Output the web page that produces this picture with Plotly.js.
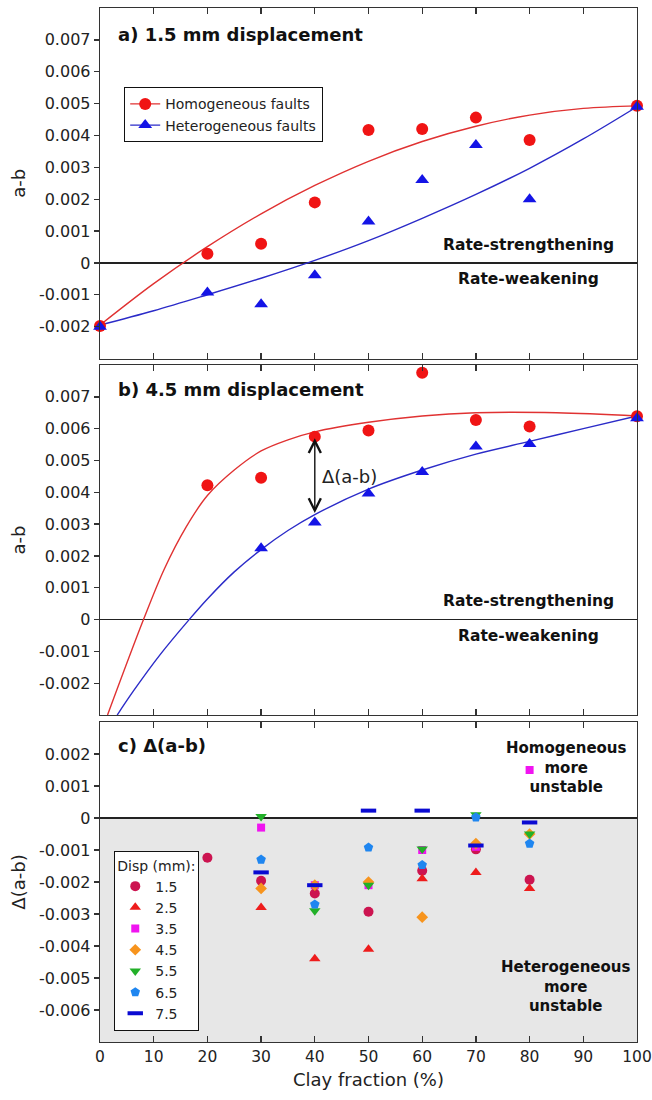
<!DOCTYPE html>
<html>
<head>
<meta charset="utf-8">
<script src="https://cdn.plot.ly/plotly-3.0.1.min.js"></script>
<style>html,body{margin:0;padding:0;background:#fff;}#chart{width:652px;height:1100px;}</style>
</head>
<body>
<div id="chart"></div>
<script>
// ---------- data ----------
const clayA = [0, 20, 30, 40, 50, 60, 70, 80, 100];
const homA = [-0.00198, 0.00029, 0.0006, 0.0019, 0.00417, 0.0042, 0.00456, 0.00386, 0.00493];
const hetA = [-0.002, -0.00093, -0.0013, -0.00039, 0.0013, 0.0026, 0.0037, 0.002, 0.0049];
const fitA_x = [0, 10, 20, 30, 40, 50, 60, 70, 80, 90, 100];
const fitA_hom = [-0.00195, -0.00065, 0.00051, 0.00154, 0.00243, 0.00319, 0.00381, 0.00429, 0.00464, 0.00485, 0.00493];
const fitA_het = [-0.00195, -0.0015, -0.001, -0.00048, 0.00008, 0.0007, 0.0014, 0.00215, 0.00297, 0.00389, 0.0049];

const clayB_hom = [20, 30, 40, 50, 60, 70, 80, 100];
const homB = [0.00422, 0.00446, 0.00575, 0.00594, 0.00776, 0.00627, 0.00607, 0.00639];
const clayB_het = [30, 40, 50, 60, 70, 80, 100];
const hetB = [0.00224, 0.00305, 0.00396, 0.00464, 0.00544, 0.00552, 0.00633];
const fitB_hom_x = [1.4, 8.1, 12, 16, 20, 25, 30, 35, 40, 50, 60, 70, 85, 100];
const fitB_hom_y = [-0.003, 0, 0.0016, 0.0029, 0.0039, 0.0047, 0.0053, 0.00565, 0.0059, 0.0062, 0.0064, 0.0065, 0.0065, 0.0064];
const fitB_het_x = [3.2, 6.2, 11.2, 16.6, 20, 25, 30, 35, 40, 50, 60, 70, 80, 90, 100];
const fitB_het_y = [-0.003, -0.00225, -0.0011, 0, 0.00065, 0.0015, 0.0022, 0.0028, 0.0033, 0.0041, 0.0047, 0.0052, 0.0056, 0.006, 0.0064];
const deltaArrowX = 40;
const deltaArrowY = [0.0057, 0.0033];

const clayC = [20, 30, 40, 50, 60, 70, 80];
const dispNames = ['1.5', '2.5', '3.5', '4.5', '5.5', '6.5', '7.5'];
const d15 = [-0.00124, -0.00196, -0.00236, -0.00293, -0.00165, -0.00098, -0.00193];
const d25 = [null, -0.0028, -0.0044, -0.0041, -0.0019, -0.0017, -0.0022];
const d35 = [null, -0.0003, -0.0021, -0.0021, -0.001, -0.0009, 0.0015];
const d45 = [null, -0.0022, -0.0021, -0.002, -0.0031, -0.0008, -0.0005];
const d55 = [null, 0.00005, -0.0029, -0.0021, -0.00097, 0.0001, -0.0005];
const d65 = [null, -0.0013, -0.0027, -0.00092, -0.00147, 0.00002, -0.0008];
const d75 = [null, -0.0017, -0.0021, 0.00023, 0.00023, -0.00086, -0.00014];

const xTicks = [0, 10, 20, 30, 40, 50, 60, 70, 80, 90, 100];
const yTicksAB = [-0.002, -0.001, 0, 0.001, 0.002, 0.003, 0.004, 0.005, 0.006, 0.007];
const yTickTextAB = ['-0.002', '-0.001', '0', '0.001', '0.002', '0.003', '0.004', '0.005', '0.006', '0.007'];
const yTicksC = [-0.006, -0.005, -0.004, -0.003, -0.002, -0.001, 0, 0.001, 0.002];
const yTickTextC = ['-0.006', '-0.005', '-0.004', '-0.003', '-0.002', '-0.001', '0', '0.001', '0.002'];
const rangeAB = [-0.003, 0.008];
const rangeC = [-0.007, 0.003];

// ---------- styles ----------
const RED = '#f01414', BLUE = '#1414e6', RED_LINE = '#e03232', BLUE_LINE = '#2b2bc8';
const dispColors = ['#cc1450', '#ee1c1c', '#f014f0', '#f7941d', '#22b028', '#1f86f0', '#0a0ad2'];
const dispSymbols = ['circle', 'triangle-up', 'square', 'diamond', 'triangle-down', 'pentagon', 'line-ew-open'];
const dispSizes = [10, 10, 8, 9, 10, 10, 11];
const dispData = [d15, d25, d35, d45, d55, d65, d75];

const traces = [];
// panel a
traces.push({x: fitA_x, y: fitA_hom, mode: 'lines', line: {color: RED_LINE, width: 1.4, shape: 'spline'}, xaxis: 'x', yaxis: 'y', showlegend: false, hoverinfo: 'skip'});
traces.push({x: fitA_x, y: fitA_het, mode: 'lines', line: {color: BLUE_LINE, width: 1.4, shape: 'spline'}, xaxis: 'x', yaxis: 'y', showlegend: false, hoverinfo: 'skip'});
traces.push({x: clayA, y: homA, mode: 'markers', marker: {symbol: 'circle', color: RED, size: 12}, xaxis: 'x', yaxis: 'y', showlegend: false, cliponaxis: false});
traces.push({x: clayA, y: hetA, mode: 'markers', marker: {symbol: 'triangle-up', color: BLUE, size: 12}, xaxis: 'x', yaxis: 'y', showlegend: false, cliponaxis: false});
traces.push({x: [null], y: [null], mode: 'lines+markers', name: 'Homogeneous faults', line: {color: RED_LINE, width: 1.4}, marker: {symbol: 'circle', color: RED, size: 12}, xaxis: 'x', yaxis: 'y', legend: 'legend'});
traces.push({x: [null], y: [null], mode: 'lines+markers', name: 'Heterogeneous faults', line: {color: BLUE_LINE, width: 1.4}, marker: {symbol: 'triangle-up', color: BLUE, size: 12}, xaxis: 'x', yaxis: 'y', legend: 'legend'});
// panel b
traces.push({x: fitB_hom_x, y: fitB_hom_y, mode: 'lines', line: {color: RED_LINE, width: 1.4, shape: 'spline', smoothing: 1}, xaxis: 'x2', yaxis: 'y2', showlegend: false, hoverinfo: 'skip'});
traces.push({x: fitB_het_x, y: fitB_het_y, mode: 'lines', line: {color: BLUE_LINE, width: 1.4, shape: 'spline'}, xaxis: 'x2', yaxis: 'y2', showlegend: false, hoverinfo: 'skip'});
traces.push({x: clayB_hom, y: homB, mode: 'markers', marker: {symbol: 'circle', color: RED, size: 12}, xaxis: 'x2', yaxis: 'y2', showlegend: false, cliponaxis: false});
traces.push({x: clayB_het, y: hetB, mode: 'markers', marker: {symbol: 'triangle-up', color: BLUE, size: 12}, xaxis: 'x2', yaxis: 'y2', showlegend: false, cliponaxis: false});
// panel c
for (let i = 0; i < dispNames.length; i++) {
  const isLine = dispSymbols[i] === 'line-ew-open';
  traces.push({
    x: clayC, y: dispData[i], mode: 'markers', name: dispNames[i],
    marker: {symbol: dispSymbols[i], color: dispColors[i], size: dispSizes[i],
             line: isLine ? {color: dispColors[i], width: 4} : {width: 0}},
    xaxis: 'x3', yaxis: 'y3', legend: 'legend2', cliponaxis: false
  });
}

const FRAME = '#333';
const FAMILY = '"DejaVu Sans", "Liberation Sans", Arial, sans-serif';
function xAx(anchor, labels) {
  return {anchor: anchor, domain: [0, 1], range: [0, 100], tickvals: xTicks, showticklabels: labels,
    ticks: 'inside', ticklen: 6, tickwidth: 1.3, tickcolor: FRAME, showline: true, linecolor: FRAME,
    linewidth: 1.3, mirror: 'ticks', showgrid: false, zeroline: false, tickfont: {size: 15.5},
    ticklabeloverflow: 'allow'};
}
function yAx(anchor, domain, range, tv, tt, title) {
  return {anchor: anchor, domain: domain, range: range, tickvals: tv, ticktext: tt,
    ticks: 'outside', ticklen: 5, tickwidth: 1.3, tickcolor: FRAME, showline: true, linecolor: FRAME,
    linewidth: 1.3, mirror: true, showgrid: false, zeroline: true, zerolinecolor: '#222', zerolinewidth: 1.6,
    tickfont: {size: 16}, title: {text: title, font: {size: 18}, standoff: 8}};
}
function yRight(over, anchor, range, tv) {
  return {overlaying: over, anchor: anchor, side: 'right', range: range, tickvals: tv, ticks: 'inside',
    ticklen: 6, tickwidth: 1.3, tickcolor: FRAME, showticklabels: false, showline: false,
    showgrid: false, zeroline: false};
}

const domA = [0.661, 1], domB = [0.3162, 0.6547], domC = [0, 0.3095];

const panelFont = {size: 18, color: '#111'};
const zoneFont = {size: 15.5, color: '#111'};
const layout = {
  width: 652, height: 1100,
  margin: {l: 100, r: 15, t: 8, b: 58},
  paper_bgcolor: '#fff', plot_bgcolor: 'rgba(0,0,0,0)',
  font: {family: FAMILY, size: 16, color: '#222'},
  xaxis: xAx('y', false),
  xaxis2: xAx('y2', false),
  xaxis3: Object.assign(xAx('y3', true), {title: {text: 'Clay fraction (%)', font: {size: 18}, standoff: 8}}),
  yaxis: yAx('x', domA, rangeAB, yTicksAB, yTickTextAB, 'a-b'),
  yaxis2: yAx('x2', domB, rangeAB, yTicksAB, yTickTextAB, 'a-b'),
  yaxis3: yAx('x3', domC, rangeC, yTicksC, yTickTextC, 'Δ(a-b)'),
  yaxis4: yRight('y', 'x', rangeAB, yTicksAB),
  yaxis5: yRight('y2', 'x2', rangeAB, yTicksAB),
  yaxis6: yRight('y3', 'x3', rangeC, yTicksC),
  shapes: [
    {type: 'rect', xref: 'x3 domain', yref: 'y3', x0: 0, x1: 1, y0: rangeC[0], y1: 0,
     fillcolor: '#e7e7e7', line: {width: 0}, layer: 'below'}
  ],
  legend: {x: 0.0445, y: 0.9236, xanchor: 'left', yanchor: 'top', bgcolor: '#fff', bordercolor: '#111',
           borderwidth: 1.3, font: {size: 14, color: '#222'}, tracegroupgap: 0, itemwidth: 30},
  legend2: {x: 0.026, y: 0.0106, xanchor: 'left', yanchor: 'bottom', bgcolor: '#fff', bordercolor: '#111',
            borderwidth: 1.3, font: {size: 14, color: '#222'}, tracegroupgap: 0, itemwidth: 30,
            title: {text: 'Disp (mm):', font: {size: 14, color: '#222'}}},
  annotations: [
    {xref: 'x domain', yref: 'y domain', x: 0.03, y: 0.923, xanchor: 'left', yanchor: 'middle', showarrow: false,
     text: '<b>a) 1.5 mm displacement</b>', font: panelFont},
    {xref: 'x domain', yref: 'y', x: 0.798, y: 0.00056, xanchor: 'center', yanchor: 'middle', showarrow: false,
     text: '<b>Rate-strengthening</b>', font: zoneFont},
    {xref: 'x domain', yref: 'y', x: 0.798, y: -0.0005, xanchor: 'center', yanchor: 'middle', showarrow: false,
     text: '<b>Rate-weakening</b>', font: zoneFont},
    {xref: 'x2 domain', yref: 'y2 domain', x: 0.03, y: 0.931, xanchor: 'left', yanchor: 'middle', showarrow: false,
     text: '<b>b) 4.5 mm displacement</b>', font: panelFont},
    {xref: 'x2 domain', yref: 'y2', x: 0.798, y: 0.0006, xanchor: 'center', yanchor: 'middle', showarrow: false,
     text: '<b>Rate-strengthening</b>', font: zoneFont},
    {xref: 'x2 domain', yref: 'y2', x: 0.798, y: -0.00053, xanchor: 'center', yanchor: 'middle', showarrow: false,
     text: '<b>Rate-weakening</b>', font: zoneFont},
    {xref: 'x2', yref: 'y2', axref: 'x2', ayref: 'y2', x: deltaArrowX, y: deltaArrowY[0], ax: deltaArrowX, ay: deltaArrowY[1],
     showarrow: true, arrowhead: 5, startarrowhead: 5, arrowside: 'end+start', arrowsize: 1.7, startarrowsize: 1.7,
     arrowwidth: 1.4, arrowcolor: '#111', text: ''},
    {xref: 'x2', yref: 'y2', x: deltaArrowX + 1, y: (deltaArrowY[0] + deltaArrowY[1]) / 2, xanchor: 'left', yanchor: 'middle',
     showarrow: false, text: 'Δ(a-b)', font: {size: 18, color: '#222'}},
    {xref: 'x3 domain', yref: 'y3 domain', x: 0.03, y: 0.928, xanchor: 'left', yanchor: 'middle', showarrow: false,
     text: '<b>c) Δ(a-b)</b>', font: panelFont},
    {xref: 'x3 domain', yref: 'y3 domain', x: 0.868, y: 0.859, xanchor: 'center', yanchor: 'middle', showarrow: false,
     text: '<b>Homogeneous<br>more<br>unstable</b>', font: {size: 15, color: '#111'}},
    {xref: 'x3 domain', yref: 'y3 domain', x: 0.868, y: 0.172, xanchor: 'center', yanchor: 'middle', showarrow: false,
     text: '<b>Heterogeneous<br>more<br>unstable</b>', font: {size: 15, color: '#111'}}
  ]
};

Plotly.newPlot('chart', traces, layout, {displayModeBar: false, staticPlot: true});
</script>
</body>
</html>
